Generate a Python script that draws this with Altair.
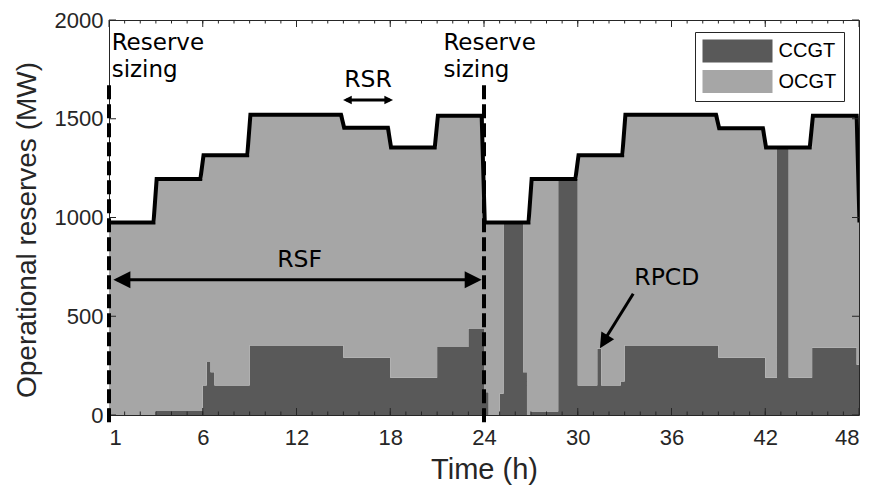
import math
import altair as alt
import pandas as pd

# ---------------- data ----------------
# reserve requirement (MW), stepwise from each block start hour
req_start = [0, 3, 6, 9, 15, 18, 21, 24, 27, 30, 33, 39, 42, 45]
req_value = [975, 1195, 1315, 1520, 1455, 1355, 1515,
             975, 1195, 1315, 1520, 1452, 1355, 1515]
next_day_req = 975

# CCGT contribution (MW), stepwise from each start hour (rest is OCGT)
ccgt_start = [0, 3, 6, 6.25, 6.5, 6.75, 9, 15, 18, 21, 23, 24, 24.3, 25, 25.25,
              26.5, 26.75, 27, 28.75, 30, 31.25, 31.5, 32.75, 33, 39, 42, 42.75,
              43.5, 45, 47.85]
ccgt_value = [0, 20, 150, 268, 216, 150, 352, 290, 188, 344, 438, 115, 0, 107, 975,
              216, 0, 18, 1195, 150, 335, 150, 170, 352, 290, 188, 1355,
              188, 340, 255]

series_names = ["CCGT", "OCGT"]
series_colors = ["#595959", "#a6a6a6"]

x_major = [0, 6, 12, 18, 24, 30, 36, 42, 48]
x_minor = list(range(1, 48))
y_major = [0, 500, 1000, 1500, 2000]

sizing_hours = [0, 24]

# annotations
ann_text = ["Reserve\nsizing", "Reserve\nsizing", "RSR", "RSF", "RPCD"]
ann_x = [0.17, 21.4, 16.58, 12.2, 35.7]
ann_y = [1850, 1850, 1662, 751, 658]
ann_align = ["left", "left", "center", "center", "center"]

# ---------------- helpers ----------------
T_END = 48


def step_value(starts, values, t):
    v = values[0]
    for s, val in zip(starts, values):
        if s <= t + 1e-9:
            v = val
    return v


bps = sorted(set(req_start + ccgt_start))
rows = []
for b in bps + [T_END]:
    tb = T_END - 1e-6 if b == T_END else b
    r = step_value(req_start, req_value, tb)
    c = min(step_value(ccgt_start, ccgt_value, tb), r)
    rows.append({"t": b, "series": "CCGT", "lo": 0, "hi": c})
    rows.append({"t": b, "series": "OCGT", "lo": c, "hi": r})
area_df = pd.DataFrame(rows)

# requirement line with short ramps between blocks
line_pts = [(0, req_value[0])]
for i in range(1, len(req_start)):
    n = req_start[i]
    line_pts.append((n - 0.15, req_value[i - 1]))
    line_pts.append((n + 0.05, req_value[i]))
line_pts.append((T_END - 0.15, req_value[-1]))
line_pts.append((T_END + 0.03, next_day_req))
line_df = pd.DataFrame(line_pts, columns=["t", "v"])
line_df["o"] = range(len(line_df))

W, H = 750, 395
xs = alt.Scale(domain=[0, 48], nice=False, zero=False)
ys = alt.Scale(domain=[0, 2000], nice=False)

AX_FONT = "Liberation Sans"
xaxis = alt.Axis(values=x_major, labelExpr="datum.value == 0 ? '1' : datum.label",
                 title="Time (h)", grid=False, ticks=False, domain=False,
                 labelFont=AX_FONT, labelFontSize=22, labelColor="#262626",
                 labelPadding=12, titleFont=AX_FONT, titleFontSize=29,
                 titleFontWeight="normal", titleColor="#262626", titlePadding=7)
yaxis = alt.Axis(values=y_major, format="d", title="Operational reserves (MW)", grid=False,
                 ticks=False, domain=False, labelFont=AX_FONT, labelFontSize=22,
                 labelColor="#262626", labelPadding=6, titleFont=AX_FONT,
                 titleFontSize=28, titleFontWeight="normal", titleColor="#262626",
                 titlePadding=13, titleY=H / 2 + 12)


def X(f):
    return alt.X(f, type="quantitative", scale=xs, axis=xaxis)


def Y(f):
    return alt.Y(f, type="quantitative", scale=ys, axis=yaxis)


legend = alt.Legend(title=None, orient="none", legendX=586, legendY=12,
                    symbolType="M-1,-1H5.087V1H-1Z", symbolSize=529,
                    symbolStrokeWidth=0, symbolOpacity=1, labelOffset=53,
                    labelFont=AX_FONT, labelFontSize=20, labelColor="#000000",
                    padding=7.5, rowPadding=7.5, strokeColor="#262626",
                    fillColor="#ffffff")

areas = alt.Chart(area_df).mark_area(interpolate="step-after", clip=True, opacity=1).encode(
    x=X("t"), y=Y("lo"), y2="hi",
    color=alt.Color("series:N", scale=alt.Scale(domain=series_names, range=series_colors),
                    legend=legend),
)

req_line = alt.Chart(line_df).mark_line(color="#000000", strokeWidth=4, clip=True,
                                        strokeJoin="miter").encode(
    x=X("t"), y=Y("v"), order="o:Q")

# ticks (inside, MATLAB style)
xmaj_df = pd.DataFrame({"t": x_major})
xmin_df = pd.DataFrame({"t": x_minor})
ymaj_df = pd.DataFrame({"v": y_major})
TC = "#262626"
tick_layers = [
    alt.Chart(xmaj_df).mark_rule(color=TC, strokeWidth=1).encode(x=X("t"), y=alt.value(H), y2=alt.value(H - 7)),
    alt.Chart(xmaj_df).mark_rule(color=TC, strokeWidth=1).encode(x=X("t"), y=alt.value(0), y2=alt.value(7)),
    alt.Chart(xmin_df).mark_rule(color=TC, strokeWidth=1).encode(x=X("t"), y=alt.value(H), y2=alt.value(H - 3.5)),
    alt.Chart(xmin_df).mark_rule(color=TC, strokeWidth=1).encode(x=X("t"), y=alt.value(0), y2=alt.value(3.5)),
    alt.Chart(ymaj_df).mark_rule(color=TC, strokeWidth=1).encode(y=Y("v"), x=alt.value(0), x2=alt.value(7)),
    alt.Chart(ymaj_df).mark_rule(color=TC, strokeWidth=1).encode(y=Y("v"), x=alt.value(W), x2=alt.value(W - 7)),
]

dash_df = pd.DataFrame({"t": sizing_hours, "top": [1670, 1670], "bot": [-60, -60]})
dashes = alt.Chart(dash_df).mark_rule(color="#000000", strokeWidth=4, strokeDash=[14, 5],
                                      clip=False).encode(x=X("t"), y=Y("top"), y2="bot")

ann_df = pd.DataFrame({"text": ann_text, "t": ann_x, "v": ann_y, "align": ann_align})
ann_left = alt.Chart(ann_df[ann_df["align"] == "left"]).mark_text(
    align="left", baseline="alphabetic", font="DejaVu Sans", fontSize=23, color="#000000",
    lineBreak="\n", lineHeight=27
).encode(x=X("t"), y=Y("v"), text="text:N")
ann_center = alt.Chart(ann_df[ann_df["align"] == "center"]).mark_text(
    align="center", baseline="alphabetic", font="DejaVu Sans", fontSize=23.5, color="#000000"
).encode(x=X("t"), y=Y("v"), text="text:N")

# arrows: shafts
shaft_df = pd.DataFrame({
    "t": [0.5, 15.2, 33.55], "t2": [23.6, 17.95, 31.75],
    "v": [685, 1595, 614], "v2": [685, 1595, 385],
})
shafts = alt.Chart(shaft_df).mark_rule(color="#000000", strokeWidth=3).encode(
    x=X("t"), x2="t2", y=Y("v"), y2="v2")

HEAD = "M0,0L-0.5,1L0.5,1Z"
big_left = alt.Chart(pd.DataFrame({"t": [0.28], "v": [685]})).mark_point(
    shape=HEAD, filled=True, size=1156, angle=270, color="#000000", opacity=1).encode(x=X("t"), y=Y("v"))
big_right = alt.Chart(pd.DataFrame({"t": [23.85], "v": [685]})).mark_point(
    shape=HEAD, filled=True, size=1156, angle=90, color="#000000", opacity=1).encode(x=X("t"), y=Y("v"))
small_left = alt.Chart(pd.DataFrame({"t": [14.98], "v": [1595]})).mark_point(
    shape=HEAD, filled=True, size=300, angle=270, color="#000000", opacity=1).encode(x=X("t"), y=Y("v"))
small_right = alt.Chart(pd.DataFrame({"t": [18.18], "v": [1595]})).mark_point(
    shape=HEAD, filled=True, size=300, angle=90, color="#000000", opacity=1).encode(x=X("t"), y=Y("v"))

tip_t, tip_v = 31.42, 338
base_t, base_v = 33.55, 614
dxp = (tip_t - base_t) * W / 48
dyp = (tip_v - base_v) * H / 2000 * -1
ang = (math.degrees(math.atan2(dxp, -dyp)) + 360) % 360
rpcd_head = alt.Chart(pd.DataFrame({"t": [tip_t], "v": [tip_v]})).mark_point(
    shape=HEAD, filled=True, size=900, angle=ang, color="#000000", opacity=1).encode(x=X("t"), y=Y("v"))

chart = alt.layer(
    areas, req_line, *tick_layers, dashes, ann_left, ann_center, shafts,
    big_left, big_right, small_left, small_right, rpcd_head,
).properties(
    width=W, height=H,
    autosize=alt.AutoSizeParams(type="none"),
    padding={"left": 101, "top": 12, "right": 4, "bottom": 72},
).configure_view(stroke="#262626", strokeWidth=1)

chart.save("out.html", embed_options={"renderer": "svg", "actions": False})
